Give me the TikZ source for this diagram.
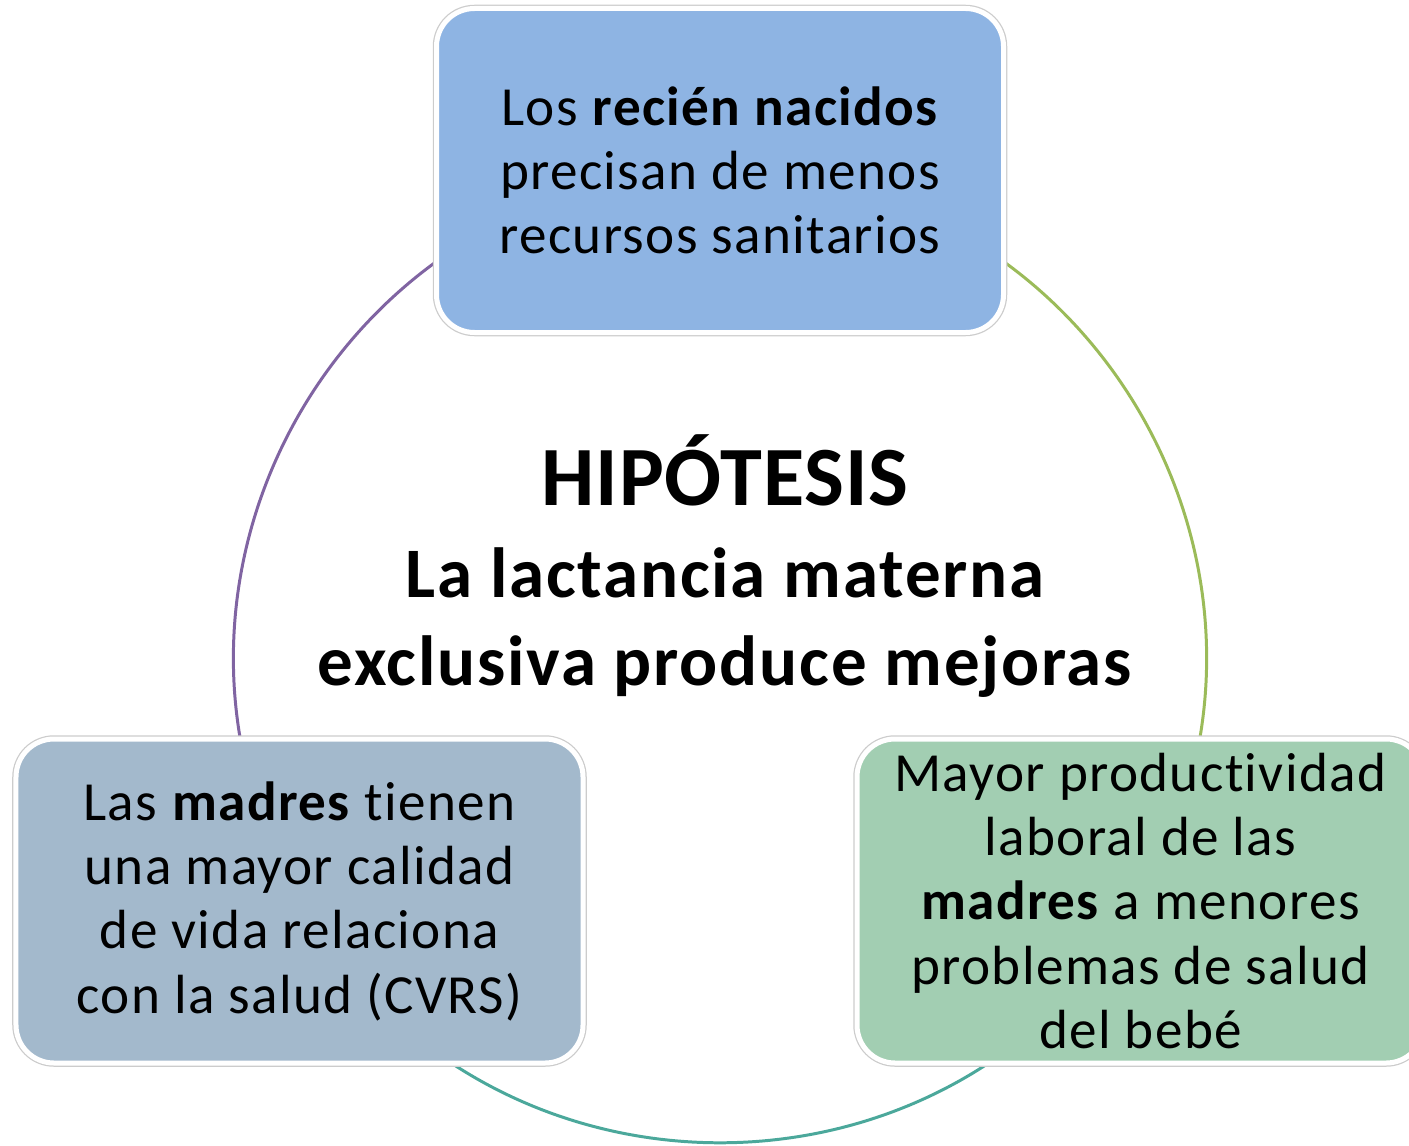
\documentclass[tikz,border=0pt]{standalone}
\usepackage{fontspec}
\setmainfont{Carlito}[Ligatures=NoCommon, LetterSpace=2.5]
\usetikzlibrary{positioning,backgrounds}
\definecolor{azulcaja}{HTML}{8EB4E3}
\definecolor{griscaja}{HTML}{A3B9CC}
\definecolor{verdecaja}{HTML}{A2CEB2}
\definecolor{morado}{HTML}{8064A2}
\definecolor{oliva}{HTML}{9BBB59}
\definecolor{turquesa}{HTML}{4BA89B}

\begin{document}
\begin{tikzpicture}[
    caja/.style={rectangle, rounded corners=3.8mm, minimum width=5.67cm, minimum height=3.24cm,
        inner sep=0pt, outer sep=0pt, draw=white, line width=0.5mm,
        preaction={draw=gray!40, line width=0.75mm},
        align=center, font=\fontsize{15.7}{18.3}\selectfont},
    cajaazul/.style={caja, fill=azulcaja},
    cajagris/.style={caja, fill=griscaja},
    cajaverde/.style={caja, fill=verdecaja},
    hipotesis/.style={align=center, font=\fontsize{20.2}{25}\selectfont\bfseries},
    arco/.style={line width=0.85pt},
]
    \useasboundingbox (0,0) rectangle (14.09,11.45);
    \clip (0,0) rectangle (14.09,11.45);

    %node
    \node[cajaazul] (recien) at (7.2,9.745) {Los \textbf{recién nacidos}\\precisan de menos\\recursos sanitarios};
    \node[cajagris] (madres) [below=4.065cm of recien, xshift=-4.205cm] {Las \textbf{madres} tienen\\una mayor calidad\\de vida relaciona\\con la salud (CVRS)};
    \node[cajaverde] (producti) [below=4.065cm of recien, xshift=4.205cm] {Mayor productividad\\laboral de las\\\textbf{madres} a menores\\problemas de salud\\del bebé};
    \node[hipotesis] (hipo) at (7.25,5.79) {{\fontsize{24}{25}\selectfont\addfontfeature{LetterSpace=1}HIPÓTESIS}\\[1.2pt]La lactancia materna\\exclusiva produce mejoras};

    %lines
    \begin{scope}[on background layer]
        \draw[arco, morado] (recien.center) to[bend right=60, looseness=1.135] (madres.center);
        \draw[arco, turquesa] (madres.center) to[bend right=60, looseness=1.135] (producti.center);
        \draw[arco, oliva] (producti.center) to[bend right=60, looseness=1.135] (recien.center);
    \end{scope}
\end{tikzpicture}
\end{document}
